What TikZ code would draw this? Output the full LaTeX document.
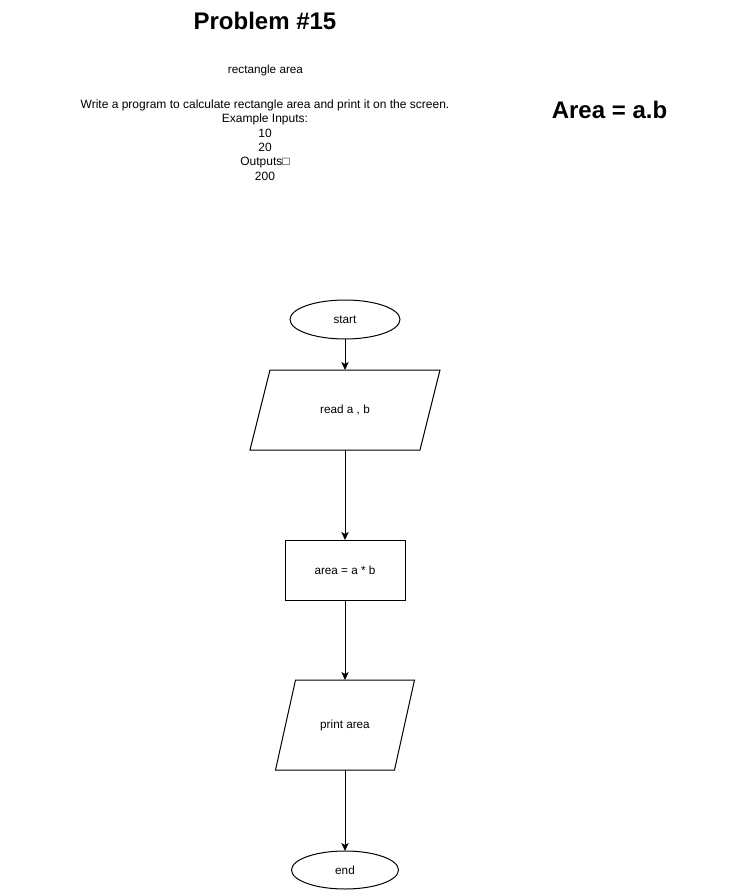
\documentclass[tikz,border=0pt]{standalone}
\usepackage{fontspec}
\setmainfont{Liberation Sans}
\usetikzlibrary{positioning,shapes.geometric,arrows.meta}

\begin{document}
\begin{tikzpicture}[x=0.75pt, y=-0.75pt,
        terminal/.style={ellipse, draw=black, line width=0.75pt, minimum width=82.5pt, minimum height=29.25pt, inner sep=0pt, outer sep=0pt, font=\fontsize{8.8}{10}\selectfont},
        io/.style={rectangle, minimum width=127.5pt, minimum height=60pt, inner sep=0pt, outer sep=0pt, font=\fontsize{8.8}{10}\selectfont},
        process/.style={rectangle, draw=black, line width=0.75pt, minimum width=90pt, minimum height=45pt, inner sep=0pt, outer sep=0pt, font=\fontsize{8.8}{10}\selectfont},
        slanted/.style={draw=black, line width=0.75pt, line join=miter},
        note/.style={align=center, inner sep=0pt, font=\fontsize{8.8}{10.8}\selectfont},
        heading/.style={inner sep=0pt, font=\bfseries\fontsize{18}{22}\selectfont},
        flow/.style={-{Stealth[length=6pt, width=5.5pt, inset=1.5pt]}, line width=0.75pt},
    ]
    \useasboundingbox (0,0) rectangle (730,891);

    \node[heading] (title) at (265,21) {Problem \#15};
    \node[note] (subtitle) at (265.5,70) {rectangle area};
    \node[note, font=\fontsize{9}{10.8}\selectfont] (task) at (265,140) {Write a program to calculate rectangle area and print it on the screen.\\Example Inputs:\\10\\20\\Outputs□\\200};
    \node[heading] (formula) at (609.5,110) {Area = a.b};

    \node[terminal] (start) at (345,319.5) {start};
    \node[io] (read) [below=23.25pt of start] {read a , b};
    \node[process] (area) [below=67.5pt of read] {area = a * b};
    \node[io, minimum width=89.25pt, minimum height=67.5pt] (print) [below=60pt of area] {print area};
    \node[terminal, minimum width=80.25pt, minimum height=28.5pt] (end) [below=60.75pt of print] {end};

    % parallelogram outlines round the io nodes
    \draw[slanted] ([xshift=-7.5pt]read.south west) -- ([xshift=7.5pt]read.north west)
        -- ([xshift=7.5pt]read.north east) -- ([xshift=-7.5pt]read.south east) -- cycle;
    \draw[slanted] ([xshift=-7.5pt]print.south west) -- ([xshift=7.5pt]print.north west)
        -- ([xshift=7.5pt]print.north east) -- ([xshift=-7.5pt]print.south east) -- cycle;

    \draw[flow] (start) -- (read);
    \draw[flow] (read) -- (area);
    \draw[flow] (area) -- (print);
    \draw[flow] (print) -- (end);
\end{tikzpicture}
\end{document}
